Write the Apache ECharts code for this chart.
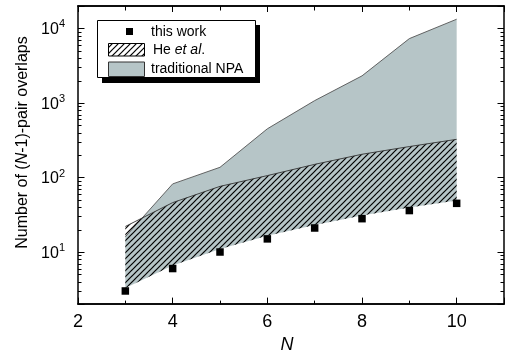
<!DOCTYPE html>
<html>
<head>
<meta charset="utf-8">
<script src="https://cdn.jsdelivr.net/npm/echarts@6/dist/echarts.min.js"></script>
<style>
  html, body { margin: 0; padding: 0; background: #fff; }
  #chart { width: 507px; height: 359px; }
</style>
</head>
<body>
<div id="chart"></div>
<script>
// N on the x axis
const nValues = [3, 4, 5, 6, 7, 8, 9, 10];
// "this work" squares
const thisWork = [3, 6, 10, 15, 21, 28, 36, 45];
// lower edge shared by both shaded bands
const bandLower = [3.3, 6.6, 11, 16.5, 23, 31, 39.5, 49];
// upper edge of the hatched band (He et al.)
const heUpper = [22, 46, 76, 106, 150, 205, 260, 325];
// upper edge of the grey band (traditional NPA)
const npaUpper = [16, 82, 137, 450, 1075, 2310, 7300, 13300];
// tick labels
const xTickLabels = [2, 4, 6, 8, 10];
const yTickLabels = [10, 100, 1000, 10000];
const yMinorTicks = [3, 4, 5, 6, 7, 8, 9, 20, 30, 40, 50, 60, 70, 80, 90,
  200, 300, 400, 500, 600, 700, 800, 900, 2000, 3000, 4000, 5000, 6000, 7000, 8000, 9000];

const FONT = 'Liberation Sans, Arial, Helvetica, sans-serif';
const GREY = '#b6c5c7';
const X_MIN = 2, X_MAX = 11, Y_MIN = 2, Y_MAX = 20000;

// diagonal hatch tile
function makeHatch() {
  const c = document.createElement('canvas');
  c.width = 6; c.height = 6;
  const ctx = c.getContext('2d');
  ctx.strokeStyle = '#000';
  ctx.lineWidth = 1.2;
  [0, 6, 12].forEach(function (k) {
    ctx.beginPath();
    ctx.moveTo(k - 8, 8);
    ctx.lineTo(8, k - 8);
    ctx.stroke();
  });
  return c;
}
const hatch = { image: makeHatch(), repeat: 'repeat' };

// band drawn once as a single polygon (x, low, high)
function bandRender(fill, edgeColor) {
  return function (params, api) {
    if (params.dataIndexInside !== 0) return null;
    const n = params.dataInsideLength || nValues.length;
    const top = [], bottom = [];
    for (let i = 0; i < n; i++) {
      top.push(api.coord([api.value(0, i), api.value(2, i)]));
      bottom.push(api.coord([api.value(0, i), api.value(1, i)]));
    }
    return {
      type: 'group',
      children: [
        { type: 'polygon', shape: { points: top.concat(bottom.slice().reverse()) }, style: { fill: fill, stroke: null } },
        { type: 'polyline', shape: { points: top }, style: { fill: null, stroke: edgeColor, lineWidth: 0.9 } }
      ]
    };
  };
}

// minor log ticks on left and right frame
function minorTickRender(params, api) {
  const v = api.value(1);
  const l = api.coord([X_MIN, v]);
  const r = api.coord([X_MAX, v]);
  const y = Math.round(l[1]) + 0.5;
  return {
    type: 'group',
    children: [
      { type: 'line', shape: { x1: l[0], y1: y, x2: l[0] + 3.5, y2: y }, style: { stroke: '#000', lineWidth: 1 } },
      { type: 'line', shape: { x1: r[0] - 3.5, y1: y, x2: r[0], y2: y }, style: { stroke: '#000', lineWidth: 1 } }
    ]
  };
}

const npaRows = nValues.map((n, i) => [n, bandLower[i], npaUpper[i]]);
const heRows = nValues.map((n, i) => [n, bandLower[i], heUpper[i]]);
const workRows = nValues.map((n, i) => [n, thisWork[i]]);
const minorRows = yMinorTicks.map(v => [X_MIN, v]);

const axisLine = { show: true, lineStyle: { color: '#000', width: 1.5 } };

function xAxisOf(position, interval, tickLen, withLabels) {
  const ax = {
    type: 'value', position: position, min: X_MIN, max: X_MAX, interval: interval,
    axisLine: axisLine,
    axisTick: { show: true, inside: true, length: tickLen, lineStyle: { color: '#000', width: 1 } },
    axisLabel: { show: false },
    splitLine: { show: false }
  };
  if (withLabels) {
    ax.axisLabel = {
      show: true, margin: 9, color: '#000', fontSize: 18, fontFamily: FONT,
      formatter: v => (xTickLabels.indexOf(v) >= 0 ? String(v) : '')
    };
    ax.name = 'N';
    ax.nameLocation = 'middle';
    ax.nameGap = 31;
    ax.nameTextStyle = { fontSize: 18, fontStyle: 'italic', color: '#000', fontFamily: FONT, padding: [0, 8, 0, 0] };
  }
  return ax;
}

function yLabel(v) {
  for (let i = 0; i < yTickLabels.length; i++) {
    if (Math.abs(yTickLabels[i] - v) < 1e-6 * v) {
      return '{b|10}{s|' + (i + 1) + '}';
    }
  }
  return '';
}

const chart = echarts.init(document.getElementById('chart'));
chart.setOption({
  animation: false,
  backgroundColor: '#fff',
  grid: { left: 78, right: 1, top: 6, bottom: 53 },
  xAxis: [
    xAxisOf('bottom', 2, 6.5, true),
    xAxisOf('bottom', 1, 3.5, false),
    xAxisOf('top', 2, 6, false),
    xAxisOf('top', 1, 4.5, false)
  ],
  yAxis: [
    {
      type: 'log', logBase: 10, min: Y_MIN, max: Y_MAX, position: 'left',
      axisLine: axisLine,
      axisTick: { show: true, inside: true, length: 6.5, lineStyle: { color: '#000', width: 1 } },
      axisLabel: {
        margin: 13, color: '#000', fontFamily: FONT, formatter: yLabel,
        rich: {
          b: { fontSize: 16, fontFamily: FONT, color: '#000', lineHeight: 19, verticalAlign: 'bottom' },
          s: { fontSize: 11, fontFamily: FONT, color: '#000', lineHeight: 11, verticalAlign: 'top' }
        }
      },
      splitLine: { show: false },
      name: 'Number of ({i|N}-1)-pair overlaps',
      nameLocation: 'middle',
      nameGap: 44,
      nameTextStyle: {
        fontSize: 16, color: '#000', fontFamily: FONT, padding: [0, 0, 0, 25],
        rich: { i: { fontSize: 16, fontStyle: 'italic', color: '#000', fontFamily: FONT } }
      }
    },
    {
      type: 'log', logBase: 10, min: Y_MIN, max: Y_MAX, position: 'right',
      axisLine: axisLine,
      axisTick: { show: true, inside: true, length: 6.5, lineStyle: { color: '#000', width: 1 } },
      axisLabel: { show: false },
      splitLine: { show: false }
    }
  ],
  series: [
    {
      type: 'custom', name: 'traditional NPA', data: npaRows, silent: true, z: 1,
      encode: { x: 0, y: [1, 2] },
      renderItem: bandRender(GREY, '#555')
    },
    {
      type: 'custom', name: 'He et al.', data: heRows, silent: true, z: 2,
      encode: { x: 0, y: [1, 2] },
      renderItem: bandRender(hatch, '#333')
    },
    {
      type: 'scatter', name: 'this work', data: workRows, z: 3,
      symbol: 'rect', symbolSize: 7.5, itemStyle: { color: '#000', opacity: 1 }
    },
    {
      type: 'custom', name: 'minor ticks', data: minorRows, silent: true, z: 4,
      encode: { x: 0, y: 1 },
      renderItem: minorTickRender
    }
  ],
  graphic: [
    { type: 'rect', z: 10, shape: { x: 102, y: 25, width: 158, height: 58 }, style: { fill: '#000' } },
    { type: 'rect', z: 11, shape: { x: 97.5, y: 20.5, width: 158, height: 57 }, style: { fill: '#fff', stroke: '#000', lineWidth: 1 } },
    { type: 'rect', z: 12, shape: { x: 126, y: 28, width: 7, height: 7 }, style: { fill: '#000' } },
    { type: 'text', z: 12, style: { x: 151, y: 32, text: 'this work', fontSize: 14, fontFamily: FONT, fill: '#000', verticalAlign: 'middle' } },
    { type: 'rect', z: 12, shape: { x: 108.5, y: 43.5, width: 36, height: 12.5 }, style: { fill: hatch, stroke: '#000', lineWidth: 1 } },
    {
      type: 'text', z: 12,
      style: {
        x: 153, y: 50, text: 'He {i|et al}.', fontSize: 14, fontFamily: FONT, fill: '#000', verticalAlign: 'middle',
        rich: { i: { fontSize: 14, fontFamily: FONT, fontStyle: 'italic', fill: '#000' } }
      }
    },
    { type: 'rect', z: 12, shape: { x: 108.5, y: 62, width: 36, height: 14.5 }, style: { fill: GREY, stroke: '#333', lineWidth: 1 } },
    { type: 'text', z: 12, style: { x: 151, y: 69, text: 'traditional NPA', fontSize: 14, fontFamily: FONT, fill: '#000', verticalAlign: 'middle' } }
  ]
});
</script>
</body>
</html>
